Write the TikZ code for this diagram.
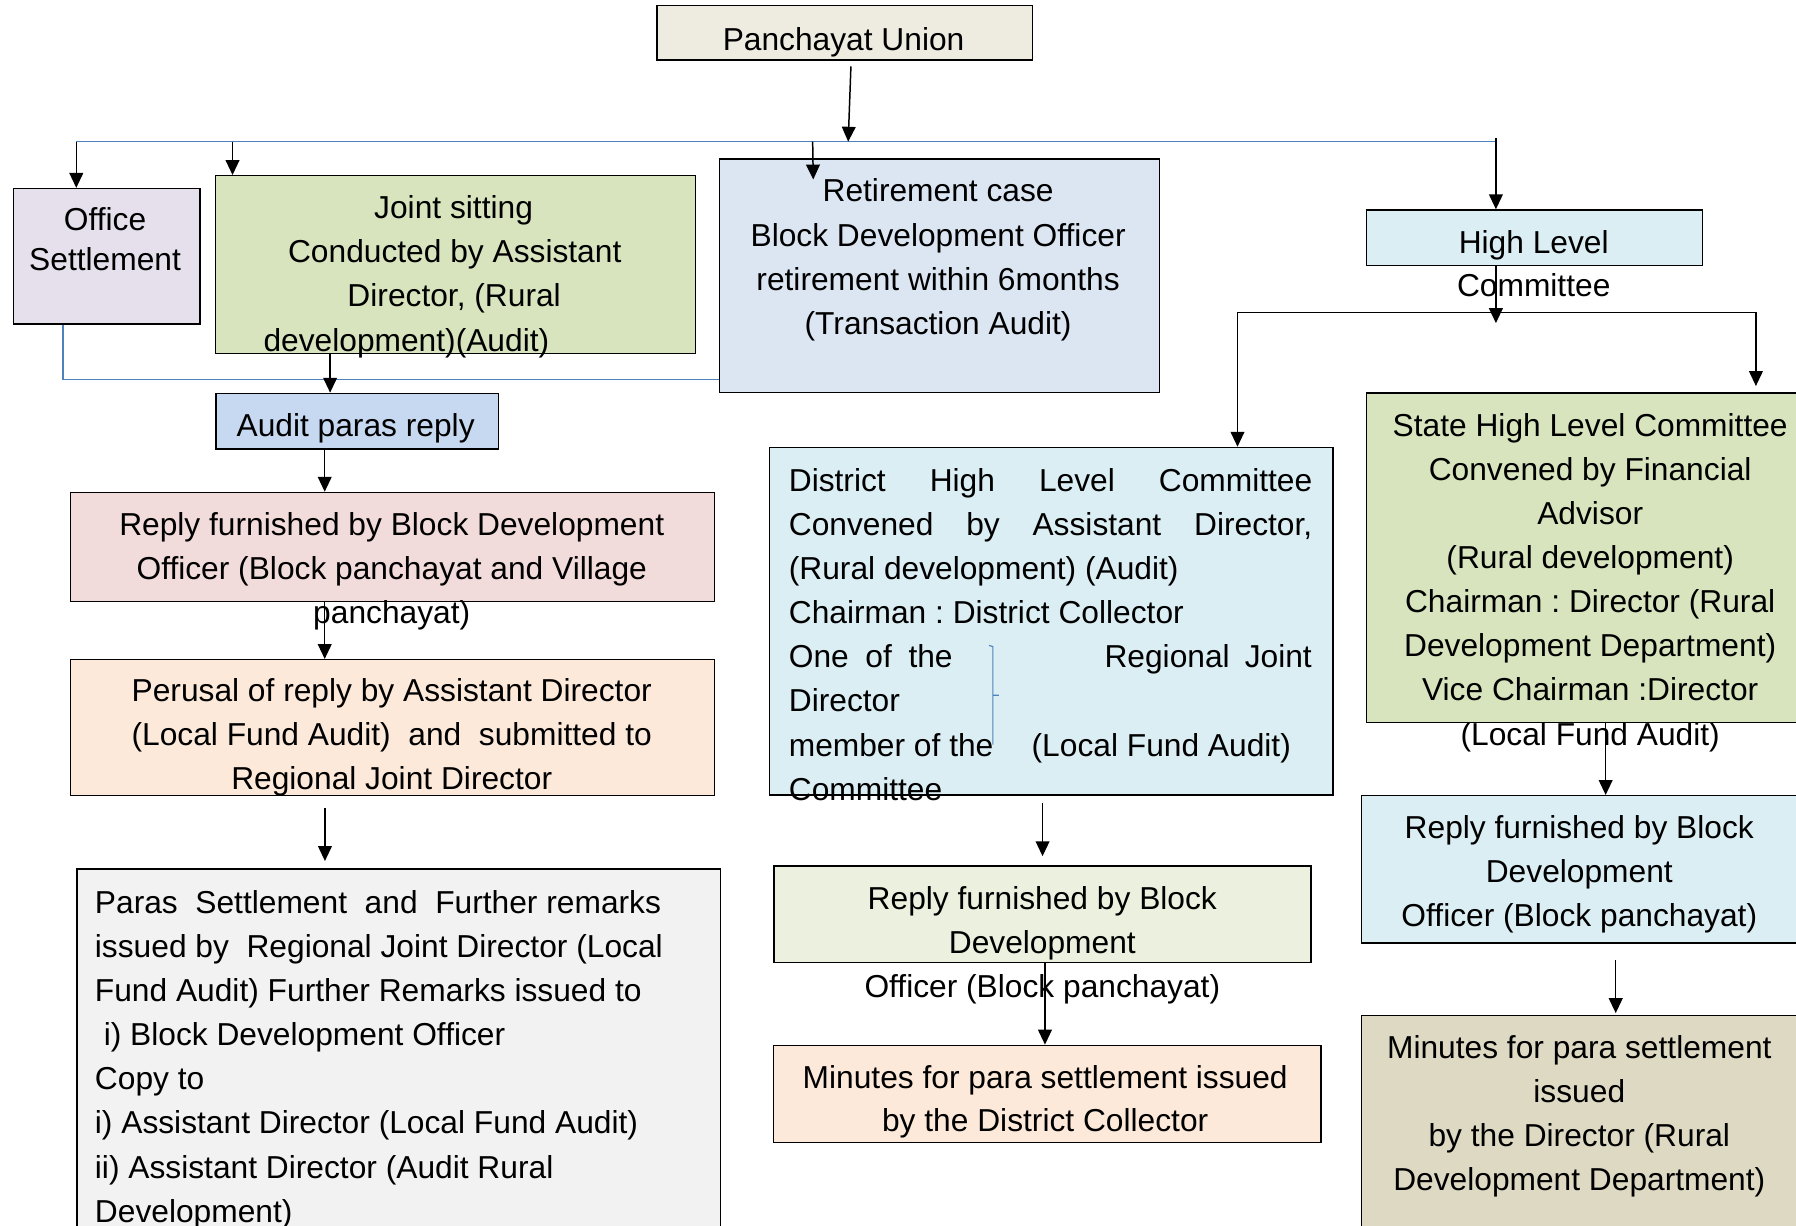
\documentclass[tikz,border=0pt]{standalone}
\usepackage{fontspec}
\setmainfont{Liberation Sans}
\usetikzlibrary{arrows.meta,calc}
\frenchspacing
\definecolor{cPU}{HTML}{EEECE1}
\definecolor{cOff}{HTML}{E5E0EC}
\definecolor{cJoint}{HTML}{D7E4BD}
\definecolor{cRet}{HTML}{DCE6F2}
\definecolor{cAqua}{HTML}{DBEEF4}
\definecolor{cAudit}{HTML}{C6D9F1}
\definecolor{cPink}{HTML}{F2DCDB}
\definecolor{cPeach}{HTML}{FDE9D9}
\definecolor{cGray}{HTML}{F2F2F2}
\definecolor{cOlive}{HTML}{EBF1DE}
\definecolor{cTan}{HTML}{DDD9C3}
\definecolor{cBus}{HTML}{4F81BD}
\tikzset{
  box/.style={draw=black,line width=1.2pt,rectangle,inner sep=0pt,anchor=north west},
  txt/.style={inner sep=0pt,anchor=base,font=\fontsize{27.7}{38.6}\selectfont},
  ltxt/.style={txt,anchor=base west},
  rtxt/.style={txt,anchor=base east},
  arr/.style={draw=black,line width=1.3pt,-{Triangle[width=12pt,length=13pt]}},
  bus/.style={draw=cBus,line width=1.2pt},
}
\newcommand\mkbox[6]{\node[box,fill=#2,minimum width={(#5)-(#3)},minimum height={(#6)-(#4)}] (#1) at (#3,#4) {};}
\newcommand\clines[5]{\foreach \tline [count=\i] in {#5}{\node[txt] (#1\i) at (#2,{#3+(\i-1)*#4}) {\tline};}}
\newcommand\llines[5]{\foreach \tline [count=\i] in {#5}{\node[ltxt] (#1\i) at (#2,{#3+(\i-1)*#4}) {\tline};}}
\begin{document}
\begin{tikzpicture}[x=1pt,y=-1pt]
\fill[white] (0,0) rectangle (1568,1070);
\useasboundingbox (0,0) rectangle (1568,1070);
% boxes
\mkbox{pu}{cPU}{573}{4.4}{901}{51.8}
\mkbox{office}{cOff}{11}{164}{174}{282.3}
\mkbox{joint}{cJoint}{187.5}{152.8}{606.4}{307.9}
\mkbox{retire}{cRet}{627.5}{138.2}{1011.5}{342}
\mkbox{high}{cAqua}{1192.6}{182.7}{1486}{231.4}
\mkbox{audit}{cAudit}{188}{342.8}{434.5}{391.4}
\mkbox{pink}{cPink}{61}{429.3}{623.4}{524.7}
\mkbox{perusal}{cPeach}{61}{575.3}{623.4}{694.1}
\mkbox{paras}{cGray}{66.6}{758.1}{628.5}{1090}
\mkbox{district}{cAqua}{671.3}{390}{1163}{693.5}
\mkbox{midreply}{cOlive}{675}{755.5}{1144}{839.6}
\mkbox{midmin}{cPeach}{674.5}{912}{1152.7}{996.8}
\mkbox{state}{cJoint}{1192.6}{342.6}{1590}{630}
\mkbox{rreply}{cAqua}{1188.3}{694}{1590}{822.7}
\mkbox{rmin}{cTan}{1188.3}{886}{1590}{1090}
% texts
\begin{scope}[yshift=-1.5pt]
\clines{put}{736.5}{42.2}{38.6}{{Panchayat Union}}
\clines{offt}{91.7}{199.5}{35.5}{{Office},{Settlement}}
\node[txt] (jt1) at (396,189.2) {Joint sitting};
\node[txt] (jt2) at (397,227.6) {Conducted by Assistant};
\node[txt] (jt3) at (396.5,266.3) {Director, (Rural};
\node[txt] (jt4) at (354.8,305) {development)(Audit)};
\clines{rett}{819}{174.6}{38.7}{{Retirement case},{Block Development Officer},{retirement within 6months},{(Transaction Audit)}}
\clines{hight}{1339}{219.7}{37.9}{{High Level},{Committee}}
\clines{audt}{310.5}{379.8}{38.6}{{Audit paras reply}}
\clines{pinkt}{342}{466.3}{38.3}{{Reply furnished by Block Development},{Officer (Block panchayat and Village},{panchayat)}}
\clines{pert}{342}{611.2}{38.5}{{Perusal of reply by Assistant Director},{(Local Fund Audit)\ \ and\ \ submitted to},{Regional Joint Director}}
% district
\node[ltxt] (dt1) at (688.5,427.2) {\makebox[457pt][s]{District\hfill High\hfill Level\hfill Committee}};
\node[ltxt] (dt2) at (688.5,465.6) {\makebox[457pt][s]{Convened\hfill by\hfill Assistant\hfill Director,}};
\node[ltxt] (dt3) at (688.5,504.2) {(Rural development) (Audit)};
\node[ltxt] (dt4) at (688.5,542.8) {Chairman : District Collector};
\node[ltxt] (dt5a) at (688.5,581.4) {\makebox[143pt][s]{One\hfill of\hfill the}};
\node[rtxt] (dt5b) at (1145.5,581.4) {\makebox[181pt][s]{Regional\hfill Joint}};
\node[ltxt] (dt6) at (688.5,620) {Director};
\node[ltxt] (dt7a) at (688.5,658.6) {member of the};
\node[ltxt] (dt7b) at (900.5,658.6) {(Local Fund Audit)};
\node[ltxt] (dt8) at (688.5,697.2) {Committee};
% paras
\node[ltxt] (pt1) at (82.7,796) {Paras\hspace{7.7pt} Settlement\hspace{7.7pt} and\hspace{7.7pt} Further remarks};
\node[ltxt] (pt2) at (82.7,834.5) {issued by\hspace{7.7pt} Regional Joint Director (Local};
\llines{ptb}{82.7}{873}{38.5}{{Fund Audit) Further Remarks issued to},{\ i) Block Development Officer},{Copy to},{i) Assistant Director (Local Fund Audit)},{ii) Assistant Director (Audit Rural},{Development)}}
\clines{mrt}{910}{792.5}{38.5}{{Reply furnished by Block},{Development},{Officer (Block panchayat)}}
\clines{mmt}{912.5}{948.8}{37.8}{{Minutes for para settlement issued},{by the District Collector}}
\clines{stt}{1388.3}{379.2}{38.55}{{State High Level Committee},{Convened by Financial},{Advisor},{(Rural development)},{Chairman : Director (Rural},{Development Department)},{Vice Chairman :Director},{(Local Fund Audit)}}
\clines{rrt}{1378.8}{730.5}{38.5}{{Reply furnished by Block},{Development},{Officer (Block panchayat)}}
\clines{rmt}{1378.8}{922.6}{38.5}{{Minutes for para settlement},{issued},{by the Director (Rural},{Development Department)}}
\end{scope}
\draw[bus,line width=1pt] (863.5,563.5) -- (866.8,564.5) -- (866.8,650) (866.8,607) -- (872,607);
% connectors
\coordinate (busL) at (66.6,123.7);
\coordinate (busR) at (1306,123.7);
\coordinate (b2) at (203,123.7);
\coordinate (b3) at (709.5,123.7);
\coordinate (b4) at (1306,120.8);
\draw[bus] (busL) -- (busR);
\draw[arr] ($(pu.south)+(5.3,5)$) -- (740.5,123.7);
\draw[arr] (busL) -- (busL |- office.north);
\draw[arr] (b2) -- (b2 |- joint.north);
\draw[arr] (b3) -- ++(0.5,33);
\draw[arr] (b4) -- (b4 |- high.north);
\coordinate (o1) at ($(office.south west)+(44,0)$);
\coordinate (o2) at ($(retire.south west)+(0,-11.7)$);
\draw[bus] (o1) |- (o2);
\coordinate (ja) at ($(joint.south west)+(100.7,0)$);
\draw[arr] (ja) -- (ja |- audit.north);
\coordinate (aa) at (283.5,391.4);
\draw[arr] (aa |- audit.south) -- (aa |- pink.north);
\draw[arr] (aa |- pink.south) -- (aa |- perusal.north);
\draw[arr] ($(aa |- perusal.south)+(0.2,10.2)$) -- ($(aa |- paras.north)+(0.2,-6.4)$);
\coordinate (sp) at (1306,273);
\coordinate (lb) at (1080.4,273);
\coordinate (rb) at (1533,273);
\draw[arr] (b4 |- high.south) -- ++(0,49.5);
\draw[arr] (sp) -| (lb |- district.north);
\draw[arr] (sp) -| ($(rb |- state.north)+(0,-5.6)$);
\coordinate (dd) at (910.2,700.8);
\draw[arr] (dd) -- ($(dd |- midreply.north)+(0,-8)$);
\coordinate (mm) at (912.3,839.6);
\draw[arr] (mm |- midreply.south) -- (mm |- midmin.north);
\coordinate (ss) at (1401.8,630);
\draw[arr] (ss |- state.south) -- (ss |- rreply.north);
\coordinate (rr) at (1410.6,838.1);
\draw[arr] (rr) -- ($(rr |- rmin.north)+(0,-1.5)$);
\end{tikzpicture}
\end{document}
